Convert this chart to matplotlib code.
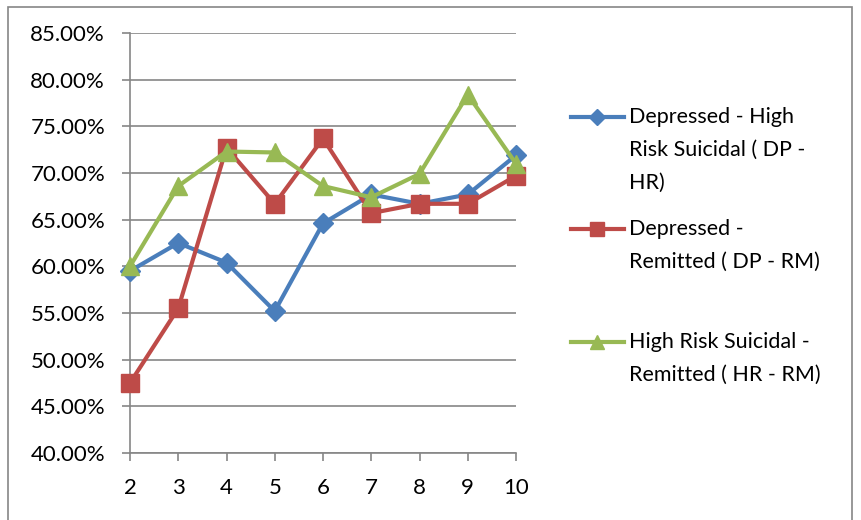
import matplotlib.pyplot as plt
from matplotlib.lines import Line2D
from matplotlib.patches import Rectangle
from matplotlib.ticker import FuncFormatter

plt.rcParams['font.family'] = ['Lato', 'DejaVu Sans']

k_values = [2, 3, 4, 5, 6, 7, 8, 9, 10]

dp_hr = [59.5, 62.5, 60.4, 55.2, 64.6, 67.7, 66.7, 67.7, 71.9]
dp_rm = [47.5, 55.5, 72.7, 66.7, 73.7, 65.7, 66.7, 66.7, 69.7]
hr_rm = [60.0, 68.6, 72.3, 72.2, 68.6, 67.4, 69.9, 78.4, 71.0]

labels = [
    "Depressed - High\nRisk Suicidal ( DP -\nHR)",
    "Depressed -\nRemitted ( DP - RM)",
    "High Risk Suicidal -\nRemitted ( HR - RM)",
]
colors = ["#4A7EBB", "#BE4B48", "#98B954"]
markers = ["D", "s", "^"]
msizes = [10, 13, 13]

fig = plt.figure(figsize=(8.61, 5.2), dpi=100)
ax = fig.add_axes([130 / 861, 1 - 453 / 520, 386 / 861, 420 / 520])

# chart border
fig.patches.append(Rectangle((8 / 861, -0.02), 844 / 861, 1 - 7 / 520 + 0.02,
                             transform=fig.transFigure, fill=False,
                             edgecolor="#868686", linewidth=1.2))

for ys, c, m, ms in zip([dp_hr, dp_rm, hr_rm], colors, markers, msizes):
    ax.plot(k_values, ys, color=c, marker=m, markersize=ms, linewidth=3,
            markeredgecolor=c, clip_on=False, zorder=3)

ax.set_xlim(2, 10)
ax.set_ylim(40, 85)
ax.set_xticks(k_values)
ax.set_yticks(range(40, 86, 5))
ax.yaxis.set_major_formatter(FuncFormatter(lambda v, p: f"{v:.2f}%"))
ax.grid(axis="y", color="#868686", linewidth=1.2)
ax.set_axisbelow(True)

for s in ["top", "right"]:
    ax.spines[s].set_visible(False)
for s in ["left", "bottom"]:
    ax.spines[s].set_color("#868686")
    ax.spines[s].set_linewidth(1.2)
ax.tick_params(axis="both", colors="#868686", labelcolor="black",
               labelsize=16, length=6, width=1.2)
ax.tick_params(axis="x", pad=12)
ax.tick_params(axis="y", pad=12)

# manual legend, marker aligned to the first line of each label
legend_y = [117, 229, 342]
for ly, lab, c, m, ms in zip(legend_y, labels, colors, markers, msizes):
    yf = 1 - ly / 520
    fig.add_artist(Line2D([571 / 861, 624 / 861], [yf, yf], color=c,
                          linewidth=3, transform=fig.transFigure))
    fig.add_artist(Line2D([597 / 861], [yf], color=c, marker=m,
                          markersize=ms * 0.8, markeredgecolor=c,
                          transform=fig.transFigure))
    fig.text(629 / 861, yf + 10 / 520, lab, fontsize=15.5, va="top",
             ha="left", linespacing=1.8)

fig.savefig("out.png", dpi=100)
